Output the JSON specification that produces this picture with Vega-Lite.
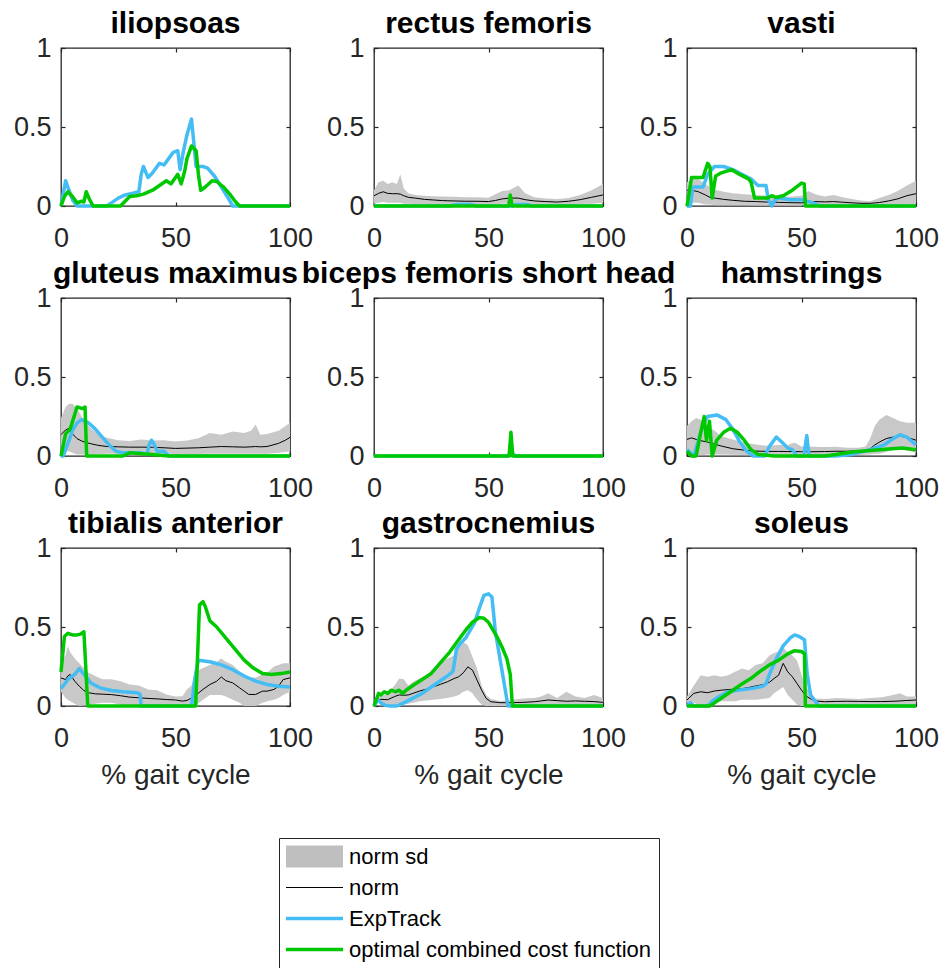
{
"$schema": "https://vega.github.io/schema/vega-lite/v6.json",
"padding": {"left": 12, "top": 8, "right": 0, "bottom": 0},
"background": "white",
"datasets": {
"norm": [
{"m":"rf","x":0,"lo":0.015,"y":0.065,"hi":0.1},{"m":"rf","x":2,"lo":0.02,"y":0.08,"hi":0.15},{"m":"rf","x":4,"lo":0.025,"y":0.09,"hi":0.16},{"m":"rf","x":6,"lo":0.02,"y":0.08,"hi":0.14},{"m":"rf","x":8,"lo":0.02,"y":0.078,"hi":0.15},{"m":"rf","x":10,"lo":0.02,"y":0.078,"hi":0.14},{"m":"rf","x":11.5,"lo":0.02,"y":0.075,"hi":0.2},{"m":"rf","x":13,"lo":0.015,"y":0.065,"hi":0.11},{"m":"rf","x":15,"lo":0.015,"y":0.055,"hi":0.08},{"m":"rf","x":18,"lo":0.012,"y":0.05,"hi":0.07},{"m":"rf","x":22,"lo":0.01,"y":0.042,"hi":0.065},{"m":"rf","x":26,"lo":0.01,"y":0.038,"hi":0.062},{"m":"rf","x":30,"lo":0.01,"y":0.034,"hi":0.06},{"m":"rf","x":35,"lo":0.008,"y":0.032,"hi":0.058},{"m":"rf","x":40,"lo":0.008,"y":0.03,"hi":0.056},{"m":"rf","x":45,"lo":0.008,"y":0.03,"hi":0.055},{"m":"rf","x":50,"lo":0.008,"y":0.028,"hi":0.052},{"m":"rf","x":53,"lo":0.01,"y":0.035,"hi":0.075},{"m":"rf","x":56,"lo":0.015,"y":0.045,"hi":0.095},{"m":"rf","x":59,"lo":0.015,"y":0.05,"hi":0.1},{"m":"rf","x":63,"lo":0.015,"y":0.05,"hi":0.13},{"m":"rf","x":66,"lo":0.01,"y":0.04,"hi":0.08},{"m":"rf","x":70,"lo":0.008,"y":0.032,"hi":0.055},{"m":"rf","x":75,"lo":0.008,"y":0.028,"hi":0.047},{"m":"rf","x":80,"lo":0.008,"y":0.025,"hi":0.045},{"m":"rf","x":85,"lo":0.01,"y":0.03,"hi":0.05},{"m":"rf","x":90,"lo":0.012,"y":0.04,"hi":0.07},{"m":"rf","x":95,"lo":0.015,"y":0.055,"hi":0.1},{"m":"rf","x":100,"lo":0.02,"y":0.07,"hi":0.14},
{"m":"va","x":0,"lo":0.02,"y":0.1,"hi":0.15},{"m":"va","x":2,"lo":0.02,"y":0.1,"hi":0.17},{"m":"va","x":5,"lo":0.02,"y":0.09,"hi":0.17},{"m":"va","x":8,"lo":0.01,"y":0.07,"hi":0.14},{"m":"va","x":10,"lo":0.01,"y":0.055,"hi":0.12},{"m":"va","x":13,"lo":0.005,"y":0.048,"hi":0.1},{"m":"va","x":16,"lo":0.005,"y":0.042,"hi":0.09},{"m":"va","x":20,"lo":0.005,"y":0.036,"hi":0.08},{"m":"va","x":25,"lo":0.005,"y":0.03,"hi":0.075},{"m":"va","x":30,"lo":0.003,"y":0.028,"hi":0.07},{"m":"va","x":35,"lo":0.003,"y":0.025,"hi":0.065},{"m":"va","x":40,"lo":0.003,"y":0.023,"hi":0.06},{"m":"va","x":45,"lo":0.003,"y":0.021,"hi":0.058},{"m":"va","x":50,"lo":0.003,"y":0.02,"hi":0.065},{"m":"va","x":53,"lo":0.003,"y":0.025,"hi":0.095},{"m":"va","x":56,"lo":0.003,"y":0.028,"hi":0.075},{"m":"va","x":60,"lo":0.003,"y":0.026,"hi":0.06},{"m":"va","x":64,"lo":0.003,"y":0.028,"hi":0.07},{"m":"va","x":68,"lo":0.003,"y":0.024,"hi":0.055},{"m":"va","x":72,"lo":0.002,"y":0.02,"hi":0.045},{"m":"va","x":76,"lo":0.002,"y":0.017,"hi":0.035},{"m":"va","x":80,"lo":0.002,"y":0.017,"hi":0.03},{"m":"va","x":84,"lo":0.003,"y":0.022,"hi":0.05},{"m":"va","x":88,"lo":0.005,"y":0.032,"hi":0.07},{"m":"va","x":92,"lo":0.008,"y":0.045,"hi":0.095},{"m":"va","x":96,"lo":0.01,"y":0.065,"hi":0.13},{"m":"va","x":100,"lo":0.015,"y":0.078,"hi":0.16},
{"m":"gm","x":0,"lo":0.03,"y":0.135,"hi":0.24},{"m":"gm","x":2,"lo":0.03,"y":0.165,"hi":0.31},{"m":"gm","x":3.5,"lo":0.03,"y":0.175,"hi":0.33},{"m":"gm","x":5,"lo":0.02,"y":0.14,"hi":0.33},{"m":"gm","x":7,"lo":0.01,"y":0.11,"hi":0.3},{"m":"gm","x":9,"lo":0.01,"y":0.095,"hi":0.25},{"m":"gm","x":11,"lo":0.01,"y":0.085,"hi":0.21},{"m":"gm","x":13,"lo":0.01,"y":0.078,"hi":0.175},{"m":"gm","x":16,"lo":0.012,"y":0.068,"hi":0.14},{"m":"gm","x":20,"lo":0.015,"y":0.06,"hi":0.115},{"m":"gm","x":25,"lo":0.015,"y":0.058,"hi":0.1},{"m":"gm","x":30,"lo":0.015,"y":0.056,"hi":0.095},{"m":"gm","x":35,"lo":0.015,"y":0.056,"hi":0.105},{"m":"gm","x":40,"lo":0.015,"y":0.055,"hi":0.098},{"m":"gm","x":45,"lo":0.015,"y":0.052,"hi":0.1},{"m":"gm","x":50,"lo":0.012,"y":0.048,"hi":0.092},{"m":"gm","x":55,"lo":0.012,"y":0.05,"hi":0.098},{"m":"gm","x":60,"lo":0.012,"y":0.052,"hi":0.113},{"m":"gm","x":65,"lo":0.015,"y":0.056,"hi":0.145},{"m":"gm","x":70,"lo":0.015,"y":0.06,"hi":0.135},{"m":"gm","x":75,"lo":0.015,"y":0.058,"hi":0.155},{"m":"gm","x":80,"lo":0.015,"y":0.056,"hi":0.145},{"m":"gm","x":83,"lo":0.015,"y":0.058,"hi":0.16},{"m":"gm","x":85,"lo":0.015,"y":0.06,"hi":0.2},{"m":"gm","x":87,"lo":0.015,"y":0.058,"hi":0.135},{"m":"gm","x":90,"lo":0.015,"y":0.06,"hi":0.14},{"m":"gm","x":95,"lo":0.02,"y":0.08,"hi":0.16},{"m":"gm","x":98,"lo":0.025,"y":0.1,"hi":0.19},{"m":"gm","x":100,"lo":0.03,"y":0.118,"hi":0.21},
{"m":"ha","x":0,"lo":0.03,"y":0.105,"hi":0.19},{"m":"ha","x":2,"lo":0.02,"y":0.115,"hi":0.22},{"m":"ha","x":4,"lo":0.01,"y":0.105,"hi":0.24},{"m":"ha","x":6,"lo":0.005,"y":0.097,"hi":0.23},{"m":"ha","x":9,"lo":0.01,"y":0.088,"hi":0.19},{"m":"ha","x":12,"lo":0.01,"y":0.075,"hi":0.16},{"m":"ha","x":15,"lo":0.01,"y":0.063,"hi":0.125},{"m":"ha","x":20,"lo":0.008,"y":0.046,"hi":0.105},{"m":"ha","x":25,"lo":0.006,"y":0.037,"hi":0.085},{"m":"ha","x":30,"lo":0.005,"y":0.031,"hi":0.073},{"m":"ha","x":35,"lo":0.005,"y":0.029,"hi":0.065},{"m":"ha","x":40,"lo":0.005,"y":0.029,"hi":0.07},{"m":"ha","x":44,"lo":0.005,"y":0.028,"hi":0.07},{"m":"ha","x":47,"lo":0.005,"y":0.028,"hi":0.085},{"m":"ha","x":50,"lo":0.005,"y":0.027,"hi":0.06},{"m":"ha","x":55,"lo":0.005,"y":0.027,"hi":0.058},{"m":"ha","x":60,"lo":0.005,"y":0.028,"hi":0.057},{"m":"ha","x":65,"lo":0.005,"y":0.03,"hi":0.058},{"m":"ha","x":70,"lo":0.005,"y":0.03,"hi":0.052},{"m":"ha","x":75,"lo":0.006,"y":0.032,"hi":0.052},{"m":"ha","x":78,"lo":0.008,"y":0.036,"hi":0.06},{"m":"ha","x":80,"lo":0.01,"y":0.046,"hi":0.11},{"m":"ha","x":82,"lo":0.012,"y":0.07,"hi":0.19},{"m":"ha","x":84,"lo":0.015,"y":0.088,"hi":0.23},{"m":"ha","x":87,"lo":0.025,"y":0.11,"hi":0.26},{"m":"ha","x":90,"lo":0.045,"y":0.12,"hi":0.24},{"m":"ha","x":93,"lo":0.045,"y":0.125,"hi":0.22},{"m":"ha","x":96,"lo":0.035,"y":0.118,"hi":0.21},{"m":"ha","x":100,"lo":0.02,"y":0.1,"hi":0.21},
{"m":"ta","x":0,"lo":0.09,"y":0.178,"hi":0.28},{"m":"ta","x":2,"lo":0.05,"y":0.167,"hi":0.32},{"m":"ta","x":3,"lo":0.04,"y":0.19,"hi":0.38},{"m":"ta","x":4,"lo":0.03,"y":0.2,"hi":0.34},{"m":"ta","x":6,"lo":0.015,"y":0.157,"hi":0.3},{"m":"ta","x":8,"lo":0,"y":0.125,"hi":0.27},{"m":"ta","x":10,"lo":0.005,"y":0.098,"hi":0.24},{"m":"ta","x":12,"lo":0.01,"y":0.084,"hi":0.21},{"m":"ta","x":15,"lo":0.015,"y":0.077,"hi":0.19},{"m":"ta","x":18,"lo":0.02,"y":0.075,"hi":0.17},{"m":"ta","x":22,"lo":0.02,"y":0.072,"hi":0.17},{"m":"ta","x":26,"lo":0.01,"y":0.065,"hi":0.157},{"m":"ta","x":30,"lo":0,"y":0.056,"hi":0.136},{"m":"ta","x":34,"lo":0,"y":0.052,"hi":0.13},{"m":"ta","x":38,"lo":0,"y":0.048,"hi":0.105},{"m":"ta","x":42,"lo":0,"y":0.045,"hi":0.1},{"m":"ta","x":46,"lo":0,"y":0.041,"hi":0.073},{"m":"ta","x":50,"lo":0,"y":0.038,"hi":0.06},{"m":"ta","x":53,"lo":0,"y":0.031,"hi":0.062},{"m":"ta","x":55,"lo":0,"y":0.035,"hi":0.105},{"m":"ta","x":57,"lo":0,"y":0.05,"hi":0.13},{"m":"ta","x":59,"lo":0.005,"y":0.07,"hi":0.22},{"m":"ta","x":62,"lo":0.04,"y":0.105,"hi":0.24},{"m":"ta","x":65,"lo":0.07,"y":0.136,"hi":0.26},{"m":"ta","x":68,"lo":0.07,"y":0.157,"hi":0.28},{"m":"ta","x":70,"lo":0.07,"y":0.184,"hi":0.3},{"m":"ta","x":72,"lo":0.06,"y":0.16,"hi":0.28},{"m":"ta","x":75,"lo":0.04,"y":0.146,"hi":0.26},{"m":"ta","x":78,"lo":0.02,"y":0.115,"hi":0.22},{"m":"ta","x":80,"lo":0,"y":0.094,"hi":0.2},{"m":"ta","x":82,"lo":0,"y":0.073,"hi":0.18},{"m":"ta","x":85,"lo":0,"y":0.073,"hi":0.18},{"m":"ta","x":88,"lo":0.02,"y":0.094,"hi":0.2},{"m":"ta","x":90,"lo":0.03,"y":0.094,"hi":0.21},{"m":"ta","x":93,"lo":0.04,"y":0.105,"hi":0.25},{"m":"ta","x":95,"lo":0.05,"y":0.125,"hi":0.26},{"m":"ta","x":97,"lo":0.07,"y":0.167,"hi":0.27},{"m":"ta","x":100,"lo":0.09,"y":0.178,"hi":0.27},
{"m":"ga","x":0,"lo":0.02,"y":0.034,"hi":0.04},{"m":"ga","x":3,"lo":0.03,"y":0.042,"hi":0.06},{"m":"ga","x":6,"lo":0.01,"y":0.04,"hi":0.08},{"m":"ga","x":9,"lo":0,"y":0.06,"hi":0.13},{"m":"ga","x":11,"lo":0,"y":0.07,"hi":0.174},{"m":"ga","x":13,"lo":0.01,"y":0.068,"hi":0.17},{"m":"ga","x":15,"lo":0.015,"y":0.07,"hi":0.13},{"m":"ga","x":17,"lo":0.02,"y":0.08,"hi":0.153},{"m":"ga","x":20,"lo":0.03,"y":0.095,"hi":0.174},{"m":"ga","x":23,"lo":0.035,"y":0.107,"hi":0.195},{"m":"ga","x":26,"lo":0.04,"y":0.122,"hi":0.227},{"m":"ga","x":29,"lo":0.045,"y":0.137,"hi":0.27},{"m":"ga","x":32,"lo":0.05,"y":0.153,"hi":0.3},{"m":"ga","x":35,"lo":0.06,"y":0.174,"hi":0.32},{"m":"ga","x":37,"lo":0.07,"y":0.185,"hi":0.36},{"m":"ga","x":39,"lo":0.09,"y":0.21,"hi":0.405},{"m":"ga","x":41,"lo":0.1,"y":0.248,"hi":0.385},{"m":"ga","x":43,"lo":0.08,"y":0.227,"hi":0.31},{"m":"ga","x":45,"lo":0.04,"y":0.164,"hi":0.237},{"m":"ga","x":47,"lo":0.01,"y":0.1,"hi":0.13},{"m":"ga","x":49,"lo":0,"y":0.048,"hi":0.07},{"m":"ga","x":51,"lo":0,"y":0.027,"hi":0.045},{"m":"ga","x":55,"lo":0,"y":0.021,"hi":0.032},{"m":"ga","x":60,"lo":0,"y":0.021,"hi":0.038},{"m":"ga","x":65,"lo":0,"y":0.023,"hi":0.048},{"m":"ga","x":70,"lo":0,"y":0.027,"hi":0.05},{"m":"ga","x":73,"lo":0.002,"y":0.032,"hi":0.06},{"m":"ga","x":76,"lo":0.005,"y":0.038,"hi":0.08},{"m":"ga","x":80,"lo":0.002,"y":0.034,"hi":0.05},{"m":"ga","x":84,"lo":0.002,"y":0.03,"hi":0.09},{"m":"ga","x":88,"lo":0.002,"y":0.032,"hi":0.06},{"m":"ga","x":92,"lo":0.002,"y":0.03,"hi":0.05},{"m":"ga","x":96,"lo":0.002,"y":0.028,"hi":0.07},{"m":"ga","x":100,"lo":0.002,"y":0.023,"hi":0.05},
{"m":"so","x":0,"lo":0.02,"y":0.038,"hi":0.06},{"m":"so","x":3,"lo":0.02,"y":0.08,"hi":0.13},{"m":"so","x":6,"lo":0,"y":0.09,"hi":0.195},{"m":"so","x":9,"lo":0.01,"y":0.084,"hi":0.185},{"m":"so","x":12,"lo":0.02,"y":0.095,"hi":0.195},{"m":"so","x":15,"lo":0.03,"y":0.1,"hi":0.185},{"m":"so","x":18,"lo":0.03,"y":0.104,"hi":0.195},{"m":"so","x":21,"lo":0.03,"y":0.107,"hi":0.216},{"m":"so","x":24,"lo":0.04,"y":0.11,"hi":0.237},{"m":"so","x":27,"lo":0.04,"y":0.117,"hi":0.227},{"m":"so","x":30,"lo":0.04,"y":0.127,"hi":0.26},{"m":"so","x":33,"lo":0.045,"y":0.135,"hi":0.27},{"m":"so","x":36,"lo":0.05,"y":0.15,"hi":0.32},{"m":"so","x":38,"lo":0.08,"y":0.174,"hi":0.335},{"m":"so","x":40,"lo":0.1,"y":0.195,"hi":0.345},{"m":"so","x":42,"lo":0.12,"y":0.27,"hi":0.37},{"m":"so","x":44,"lo":0.07,"y":0.216,"hi":0.34},{"m":"so","x":46,"lo":0.04,"y":0.185,"hi":0.32},{"m":"so","x":48,"lo":0.01,"y":0.143,"hi":0.29},{"m":"so","x":50,"lo":0,"y":0.1,"hi":0.2},{"m":"so","x":52,"lo":0,"y":0.063,"hi":0.12},{"m":"so","x":54,"lo":0,"y":0.045,"hi":0.08},{"m":"so","x":56,"lo":0,"y":0.032,"hi":0.048},{"m":"so","x":60,"lo":0.005,"y":0.027,"hi":0.045},{"m":"so","x":65,"lo":0.005,"y":0.029,"hi":0.05},{"m":"so","x":70,"lo":0.005,"y":0.03,"hi":0.048},{"m":"so","x":75,"lo":0.005,"y":0.029,"hi":0.045},{"m":"so","x":80,"lo":0.005,"y":0.028,"hi":0.05},{"m":"so","x":85,"lo":0.005,"y":0.028,"hi":0.055},{"m":"so","x":90,"lo":0.005,"y":0.03,"hi":0.07},{"m":"so","x":93,"lo":0.005,"y":0.032,"hi":0.08},{"m":"so","x":96,"lo":0.005,"y":0.035,"hi":0.06},{"m":"so","x":100,"lo":0.005,"y":0.038,"hi":0.06}
],
"exp": [
{"m":"il","x":0,"y":0},{"m":"il","x":1,"y":0.08},{"m":"il","x":2,"y":0.16},{"m":"il","x":3,"y":0.12},{"m":"il","x":5,"y":0.04},{"m":"il","x":7,"y":0},{"m":"il","x":20,"y":0},{"m":"il","x":22,"y":0.02},{"m":"il","x":25,"y":0.05},{"m":"il","x":28,"y":0.07},{"m":"il","x":31,"y":0.08},{"m":"il","x":34,"y":0.09},{"m":"il","x":35,"y":0.2},{"m":"il","x":36,"y":0.25},{"m":"il","x":38,"y":0.18},{"m":"il","x":40,"y":0.21},{"m":"il","x":43,"y":0.27},{"m":"il","x":45,"y":0.26},{"m":"il","x":47,"y":0.3},{"m":"il","x":49,"y":0.34},{"m":"il","x":51,"y":0.35},{"m":"il","x":52,"y":0.23},{"m":"il","x":53.5,"y":0.35},{"m":"il","x":55,"y":0.45},{"m":"il","x":57,"y":0.55},{"m":"il","x":58,"y":0.4},{"m":"il","x":59,"y":0.25},{"m":"il","x":62,"y":0.25},{"m":"il","x":64,"y":0.24},{"m":"il","x":67,"y":0.19},{"m":"il","x":70,"y":0.12},{"m":"il","x":73,"y":0.05},{"m":"il","x":75,"y":0},{"m":"il","x":100,"y":0},
{"m":"rf","x":0,"y":0},{"m":"rf","x":33,"y":0},{"m":"rf","x":36,"y":0.01},{"m":"rf","x":42,"y":0.01},{"m":"rf","x":45,"y":0},{"m":"rf","x":60,"y":0},{"m":"rf","x":62,"y":0.01},{"m":"rf","x":67,"y":0.01},{"m":"rf","x":69,"y":0},{"m":"rf","x":100,"y":0},
{"m":"va","x":0,"y":0},{"m":"va","x":1.5,"y":0},{"m":"va","x":2.5,"y":0.12},{"m":"va","x":7,"y":0.12},{"m":"va","x":9,"y":0.2},{"m":"va","x":12,"y":0.25},{"m":"va","x":16,"y":0.25},{"m":"va","x":20,"y":0.23},{"m":"va","x":24,"y":0.2},{"m":"va","x":28,"y":0.17},{"m":"va","x":31,"y":0.13},{"m":"va","x":34.5,"y":0.13},{"m":"va","x":35.5,"y":0.04},{"m":"va","x":37,"y":0},{"m":"va","x":38.5,"y":0.04},{"m":"va","x":40,"y":0.05},{"m":"va","x":45,"y":0.04},{"m":"va","x":50,"y":0.04},{"m":"va","x":55,"y":0.02},{"m":"va","x":58,"y":0},{"m":"va","x":100,"y":0},
{"m":"gm","x":0,"y":0},{"m":"gm","x":1,"y":0},{"m":"gm","x":3,"y":0.08},{"m":"gm","x":5,"y":0.16},{"m":"gm","x":7,"y":0.21},{"m":"gm","x":9,"y":0.23},{"m":"gm","x":12,"y":0.21},{"m":"gm","x":15,"y":0.17},{"m":"gm","x":18,"y":0.12},{"m":"gm","x":21,"y":0.07},{"m":"gm","x":24,"y":0.03},{"m":"gm","x":27,"y":0.02},{"m":"gm","x":31,"y":0.02},{"m":"gm","x":35,"y":0.02},{"m":"gm","x":37.5,"y":0.01},{"m":"gm","x":38.5,"y":0.07},{"m":"gm","x":39.5,"y":0.1},{"m":"gm","x":40.5,"y":0.08},{"m":"gm","x":42,"y":0.03},{"m":"gm","x":45,"y":0.03},{"m":"gm","x":47,"y":0},{"m":"gm","x":100,"y":0},
{"m":"bf","x":0,"y":0},{"m":"bf","x":58,"y":0},{"m":"bf","x":59,"y":0.01},{"m":"bf","x":61,"y":0.01},{"m":"bf","x":62,"y":0},{"m":"bf","x":100,"y":0},
{"m":"ha","x":0,"y":0.04},{"m":"ha","x":1.5,"y":0.02},{"m":"ha","x":3,"y":0},{"m":"ha","x":5,"y":0.1},{"m":"ha","x":7,"y":0.2},{"m":"ha","x":9,"y":0.25},{"m":"ha","x":13,"y":0.26},{"m":"ha","x":17,"y":0.23},{"m":"ha","x":20,"y":0.17},{"m":"ha","x":23,"y":0.09},{"m":"ha","x":26,"y":0.03},{"m":"ha","x":29,"y":0},{"m":"ha","x":34,"y":0},{"m":"ha","x":36,"y":0.06},{"m":"ha","x":39,"y":0.12},{"m":"ha","x":42,"y":0.08},{"m":"ha","x":44,"y":0.05},{"m":"ha","x":46,"y":0.04},{"m":"ha","x":48,"y":0},{"m":"ha","x":51,"y":0},{"m":"ha","x":52.3,"y":0.13},{"m":"ha","x":53.3,"y":0},{"m":"ha","x":65,"y":0},{"m":"ha","x":72,"y":0.01},{"m":"ha","x":80,"y":0.04},{"m":"ha","x":86,"y":0.07},{"m":"ha","x":90,"y":0.11},{"m":"ha","x":93,"y":0.135},{"m":"ha","x":96,"y":0.12},{"m":"ha","x":100,"y":0.07},
{"m":"ta","x":0,"y":0.11},{"m":"ta","x":3,"y":0.167},{"m":"ta","x":6,"y":0.2},{"m":"ta","x":8,"y":0.236},{"m":"ta","x":10,"y":0.2},{"m":"ta","x":13,"y":0.146},{"m":"ta","x":17,"y":0.115},{"m":"ta","x":22,"y":0.098},{"m":"ta","x":27,"y":0.09},{"m":"ta","x":33,"y":0.084},{"m":"ta","x":34.5,"y":0.075},{"m":"ta","x":35,"y":0},{"m":"ta","x":57,"y":0},{"m":"ta","x":58.5,"y":0.18},{"m":"ta","x":60,"y":0.29},{"m":"ta","x":65,"y":0.28},{"m":"ta","x":70,"y":0.26},{"m":"ta","x":75,"y":0.23},{"m":"ta","x":80,"y":0.19},{"m":"ta","x":85,"y":0.157},{"m":"ta","x":90,"y":0.136},{"m":"ta","x":95,"y":0.125},{"m":"ta","x":100,"y":0.12},
{"m":"ga","x":0,"y":0},{"m":"ga","x":1.7,"y":0.04},{"m":"ga","x":3,"y":0.02},{"m":"ga","x":5,"y":0.005},{"m":"ga","x":7,"y":0},{"m":"ga","x":10,"y":0},{"m":"ga","x":13,"y":0.02},{"m":"ga","x":17,"y":0.05},{"m":"ga","x":21,"y":0.08},{"m":"ga","x":25,"y":0.12},{"m":"ga","x":29,"y":0.16},{"m":"ga","x":33,"y":0.2},{"m":"ga","x":34.5,"y":0.22},{"m":"ga","x":36,"y":0.36},{"m":"ga","x":38,"y":0.4},{"m":"ga","x":40,"y":0.43},{"m":"ga","x":44,"y":0.53},{"m":"ga","x":46,"y":0.62},{"m":"ga","x":48,"y":0.7},{"m":"ga","x":50,"y":0.71},{"m":"ga","x":51.5,"y":0.69},{"m":"ga","x":53,"y":0.47},{"m":"ga","x":55,"y":0.3},{"m":"ga","x":57,"y":0.13},{"m":"ga","x":58.5,"y":0},{"m":"ga","x":100,"y":0},
{"m":"so","x":0,"y":0},{"m":"so","x":1.5,"y":0.02},{"m":"so","x":3,"y":0},{"m":"so","x":9,"y":0},{"m":"so","x":11,"y":0.03},{"m":"so","x":14,"y":0.06},{"m":"so","x":18,"y":0.09},{"m":"so","x":22,"y":0.1},{"m":"so","x":28,"y":0.11},{"m":"so","x":33,"y":0.125},{"m":"so","x":34.5,"y":0.14},{"m":"so","x":36,"y":0.2},{"m":"so","x":39,"y":0.3},{"m":"so","x":42,"y":0.38},{"m":"so","x":45,"y":0.43},{"m":"so","x":47,"y":0.45},{"m":"so","x":49,"y":0.44},{"m":"so","x":51.3,"y":0.42},{"m":"so","x":52.5,"y":0.2},{"m":"so","x":54,"y":0.07},{"m":"so","x":56,"y":0.03},{"m":"so","x":57.5,"y":0},{"m":"so","x":100,"y":0}
],
"opt": [
{"m":"il","x":0,"y":0},{"m":"il","x":1.5,"y":0.06},{"m":"il","x":3,"y":0.09},{"m":"il","x":5,"y":0.06},{"m":"il","x":7,"y":0.02},{"m":"il","x":9,"y":0.03},{"m":"il","x":10,"y":0.025},{"m":"il","x":11,"y":0.09},{"m":"il","x":12.5,"y":0.04},{"m":"il","x":14,"y":0},{"m":"il","x":26,"y":0},{"m":"il","x":28,"y":0.03},{"m":"il","x":30,"y":0.06},{"m":"il","x":33,"y":0.065},{"m":"il","x":36,"y":0.075},{"m":"il","x":40,"y":0.1},{"m":"il","x":43,"y":0.13},{"m":"il","x":46,"y":0.16},{"m":"il","x":48,"y":0.14},{"m":"il","x":50,"y":0.18},{"m":"il","x":51,"y":0.2},{"m":"il","x":52.5,"y":0.14},{"m":"il","x":54,"y":0.22},{"m":"il","x":55,"y":0.3},{"m":"il","x":57,"y":0.38},{"m":"il","x":59,"y":0.35},{"m":"il","x":60,"y":0.2},{"m":"il","x":61,"y":0.1},{"m":"il","x":63,"y":0.12},{"m":"il","x":66,"y":0.16},{"m":"il","x":68,"y":0.155},{"m":"il","x":71,"y":0.12},{"m":"il","x":74,"y":0.07},{"m":"il","x":76,"y":0.03},{"m":"il","x":78,"y":0},{"m":"il","x":100,"y":0},
{"m":"rf","x":0,"y":0},{"m":"rf","x":58.8,"y":0},{"m":"rf","x":59.5,"y":0.07},{"m":"rf","x":60.3,"y":0},{"m":"rf","x":100,"y":0},
{"m":"va","x":0,"y":0},{"m":"va","x":2,"y":0.18},{"m":"va","x":7,"y":0.18},{"m":"va","x":9,"y":0.27},{"m":"va","x":10,"y":0.25},{"m":"va","x":11,"y":0.05},{"m":"va","x":12.5,"y":0.19},{"m":"va","x":15,"y":0.21},{"m":"va","x":19.5,"y":0.23},{"m":"va","x":23,"y":0.2},{"m":"va","x":27,"y":0.17},{"m":"va","x":28,"y":0.15},{"m":"va","x":29.5,"y":0.05},{"m":"va","x":35,"y":0.05},{"m":"va","x":37,"y":0.065},{"m":"va","x":39,"y":0.055},{"m":"va","x":42,"y":0.065},{"m":"va","x":46,"y":0.1},{"m":"va","x":50,"y":0.145},{"m":"va","x":51.2,"y":0.14},{"m":"va","x":51.7,"y":0},{"m":"va","x":100,"y":0},
{"m":"gm","x":0,"y":0},{"m":"gm","x":2,"y":0.14},{"m":"gm","x":4,"y":0.17},{"m":"gm","x":5.5,"y":0.24},{"m":"gm","x":7,"y":0.31},{"m":"gm","x":9.5,"y":0.3},{"m":"gm","x":10.5,"y":0.31},{"m":"gm","x":11.2,"y":0},{"m":"gm","x":27,"y":0},{"m":"gm","x":30,"y":0.02},{"m":"gm","x":35,"y":0.015},{"m":"gm","x":40,"y":0.01},{"m":"gm","x":47,"y":0},{"m":"gm","x":100,"y":0},
{"m":"bf","x":0,"y":0},{"m":"bf","x":59,"y":0},{"m":"bf","x":59.8,"y":0.15},{"m":"bf","x":60.6,"y":0},{"m":"bf","x":100,"y":0},
{"m":"ha","x":0,"y":0.03},{"m":"ha","x":2,"y":0},{"m":"ha","x":4,"y":0},{"m":"ha","x":6,"y":0.15},{"m":"ha","x":7.5,"y":0.25},{"m":"ha","x":8.5,"y":0.1},{"m":"ha","x":9.8,"y":0.22},{"m":"ha","x":11,"y":0},{"m":"ha","x":13,"y":0.1},{"m":"ha","x":16,"y":0.15},{"m":"ha","x":19,"y":0.175},{"m":"ha","x":22,"y":0.15},{"m":"ha","x":25,"y":0.1},{"m":"ha","x":28,"y":0.04},{"m":"ha","x":31,"y":0.01},{"m":"ha","x":38,"y":0},{"m":"ha","x":60,"y":0},{"m":"ha","x":65,"y":0.01},{"m":"ha","x":72,"y":0.025},{"m":"ha","x":80,"y":0.035},{"m":"ha","x":88,"y":0.045},{"m":"ha","x":94,"y":0.05},{"m":"ha","x":100,"y":0.04},
{"m":"ta","x":0,"y":0.215},{"m":"ta","x":1.5,"y":0.44},{"m":"ta","x":3,"y":0.46},{"m":"ta","x":5,"y":0.45},{"m":"ta","x":7,"y":0.45},{"m":"ta","x":8.5,"y":0.455},{"m":"ta","x":10,"y":0.47},{"m":"ta","x":11.7,"y":0},{"m":"ta","x":58.8,"y":0},{"m":"ta","x":60.5,"y":0.64},{"m":"ta","x":62,"y":0.66},{"m":"ta","x":63,"y":0.63},{"m":"ta","x":65,"y":0.54},{"m":"ta","x":68,"y":0.5},{"m":"ta","x":72,"y":0.43},{"m":"ta","x":76,"y":0.36},{"m":"ta","x":80,"y":0.29},{"m":"ta","x":84,"y":0.24},{"m":"ta","x":88,"y":0.205},{"m":"ta","x":92,"y":0.2},{"m":"ta","x":96,"y":0.205},{"m":"ta","x":100,"y":0.215},
{"m":"ga","x":0,"y":0},{"m":"ga","x":1,"y":0.04},{"m":"ga","x":2,"y":0.08},{"m":"ga","x":3,"y":0.07},{"m":"ga","x":4.5,"y":0.09},{"m":"ga","x":6,"y":0.08},{"m":"ga","x":7.5,"y":0.1},{"m":"ga","x":9.5,"y":0.09},{"m":"ga","x":11,"y":0.1},{"m":"ga","x":12.5,"y":0.08},{"m":"ga","x":14,"y":0.1},{"m":"ga","x":17,"y":0.13},{"m":"ga","x":20,"y":0.158},{"m":"ga","x":25,"y":0.206},{"m":"ga","x":30,"y":0.29},{"m":"ga","x":33,"y":0.34},{"m":"ga","x":36,"y":0.4},{"m":"ga","x":40,"y":0.48},{"m":"ga","x":43,"y":0.53},{"m":"ga","x":46,"y":0.56},{"m":"ga","x":48,"y":0.555},{"m":"ga","x":50,"y":0.53},{"m":"ga","x":52,"y":0.48},{"m":"ga","x":54,"y":0.43},{"m":"ga","x":56,"y":0.37},{"m":"ga","x":58,"y":0.3},{"m":"ga","x":59.5,"y":0.2},{"m":"ga","x":60.2,"y":0.05},{"m":"ga","x":60.5,"y":0},{"m":"ga","x":100,"y":0},
{"m":"so","x":0,"y":0},{"m":"so","x":10,"y":0},{"m":"so","x":12,"y":0.02},{"m":"so","x":16,"y":0.06},{"m":"so","x":20,"y":0.1},{"m":"so","x":24,"y":0.14},{"m":"so","x":28,"y":0.175},{"m":"so","x":32,"y":0.22},{"m":"so","x":36,"y":0.26},{"m":"so","x":40,"y":0.29},{"m":"so","x":44,"y":0.33},{"m":"so","x":47,"y":0.35},{"m":"so","x":50,"y":0.345},{"m":"so","x":51.3,"y":0.33},{"m":"so","x":51.7,"y":0},{"m":"so","x":100,"y":0}
]
},
"bounds": "flush",
"columns": 3,
"spacing": {"row": 92, "column": 84},
"concat": [
{"title": "iliopsoas", "width": 229, "height": 158, "resolve": {"axis": {"x": "independent", "y": "independent"}},
 "layer": [
  {"data": {"name": "exp"}, "transform": [{"filter": "datum.m=='il'"}], "mark": {"type": "line"}, "encoding": {
     "x": {"field": "x", "type": "quantitative", "scale": {"domain": [0, 100], "nice": false}, "axis": {"values": [0, 50, 100], "title": null}},
     "y": {"field": "y", "type": "quantitative", "scale": {"domain": [0, 1], "nice": false}, "axis": {"values": [0, 0.5, 1], "title": null, "format": "~g"}},
     "color": {"datum": "ExpTrack", "type": "nominal", "scale": {"domain": ["norm sd", "norm", "ExpTrack", "optimal combined cost function"], "range": ["#bfbfbf", "#000000", "#44bdf5", "#00c800"]}, "legend": {"title": null, "symbolType": "stroke", "symbolOffset": -11, "labelOffset": -5}},
     "strokeWidth": {"datum": "ExpTrack", "type": "nominal", "scale": {"type": "ordinal", "domain": ["norm sd", "norm", "ExpTrack", "optimal combined cost function"], "range": [22, 1.2, 3.5, 3.5]}, "legend": {"title": null, "symbolType": "stroke", "symbolOffset": -11, "labelOffset": -5}}}},
  {"data": {"name": "opt"}, "transform": [{"filter": "datum.m=='il'"}], "mark": {"type": "line", "strokeWidth": 3.5, "color": "#00c800"}, "encoding": {
     "x": {"field": "x", "type": "quantitative", "axis": {"orient": "top", "values": [0, 50, 100], "labels": false, "title": null}},
     "y": {"field": "y", "type": "quantitative", "axis": {"orient": "right", "values": [0, 0.5, 1], "labels": false, "title": null}}}}
 ]},
{"title": "rectus femoris", "width": 229, "height": 158, "resolve": {"axis": {"x": "independent", "y": "independent"}},
 "layer": [
  {"data": {"name": "norm"}, "transform": [{"filter": "datum.m=='rf'"}], "mark": {"type": "area", "color": "#c8c8c8"}, "encoding": {
     "x": {"field": "x", "type": "quantitative", "scale": {"domain": [0, 100], "nice": false}, "axis": {"values": [0, 50, 100], "title": null}},
     "y": {"field": "lo", "type": "quantitative", "scale": {"domain": [0, 1], "nice": false}, "axis": {"values": [0, 0.5, 1], "title": null, "format": "~g"}}, "y2": {"field": "hi"}}},
  {"data": {"name": "norm"}, "transform": [{"filter": "datum.m=='rf'"}], "mark": {"type": "line", "strokeWidth": 1, "color": "#000000"}, "encoding": {
     "x": {"field": "x", "type": "quantitative", "axis": {"orient": "top", "values": [0, 50, 100], "labels": false, "title": null}},
     "y": {"field": "y", "type": "quantitative", "axis": {"orient": "right", "values": [0, 0.5, 1], "labels": false, "title": null}}}},
  {"data": {"name": "exp"}, "transform": [{"filter": "datum.m=='rf'"}], "mark": {"type": "line", "strokeWidth": 3.5, "color": "#44bdf5"}, "encoding": {"x": {"field": "x", "type": "quantitative", "axis": null}, "y": {"field": "y", "type": "quantitative", "axis": null}}},
  {"data": {"name": "opt"}, "transform": [{"filter": "datum.m=='rf'"}], "mark": {"type": "line", "strokeWidth": 3.5, "color": "#00c800"}, "encoding": {"x": {"field": "x", "type": "quantitative", "axis": null}, "y": {"field": "y", "type": "quantitative", "axis": null}}}
 ]},
{"title": "vasti", "width": 229, "height": 158, "resolve": {"axis": {"x": "independent", "y": "independent"}},
 "layer": [
  {"data": {"name": "norm"}, "transform": [{"filter": "datum.m=='va'"}], "mark": {"type": "area", "color": "#c8c8c8"}, "encoding": {
     "x": {"field": "x", "type": "quantitative", "scale": {"domain": [0, 100], "nice": false}, "axis": {"values": [0, 50, 100], "title": null}},
     "y": {"field": "lo", "type": "quantitative", "scale": {"domain": [0, 1], "nice": false}, "axis": {"values": [0, 0.5, 1], "title": null, "format": "~g"}}, "y2": {"field": "hi"}}},
  {"data": {"name": "norm"}, "transform": [{"filter": "datum.m=='va'"}], "mark": {"type": "line", "strokeWidth": 1, "color": "#000000"}, "encoding": {
     "x": {"field": "x", "type": "quantitative", "axis": {"orient": "top", "values": [0, 50, 100], "labels": false, "title": null}},
     "y": {"field": "y", "type": "quantitative", "axis": {"orient": "right", "values": [0, 0.5, 1], "labels": false, "title": null}}}},
  {"data": {"name": "exp"}, "transform": [{"filter": "datum.m=='va'"}], "mark": {"type": "line", "strokeWidth": 3.5, "color": "#44bdf5"}, "encoding": {"x": {"field": "x", "type": "quantitative", "axis": null}, "y": {"field": "y", "type": "quantitative", "axis": null}}},
  {"data": {"name": "opt"}, "transform": [{"filter": "datum.m=='va'"}], "mark": {"type": "line", "strokeWidth": 3.5, "color": "#00c800"}, "encoding": {"x": {"field": "x", "type": "quantitative", "axis": null}, "y": {"field": "y", "type": "quantitative", "axis": null}}}
 ]},
{"title": "gluteus maximus", "width": 229, "height": 158, "resolve": {"axis": {"x": "independent", "y": "independent"}},
 "layer": [
  {"data": {"name": "norm"}, "transform": [{"filter": "datum.m=='gm'"}], "mark": {"type": "area", "color": "#c8c8c8"}, "encoding": {
     "x": {"field": "x", "type": "quantitative", "scale": {"domain": [0, 100], "nice": false}, "axis": {"values": [0, 50, 100], "title": null}},
     "y": {"field": "lo", "type": "quantitative", "scale": {"domain": [0, 1], "nice": false}, "axis": {"values": [0, 0.5, 1], "title": null, "format": "~g"}}, "y2": {"field": "hi"}}},
  {"data": {"name": "norm"}, "transform": [{"filter": "datum.m=='gm'"}], "mark": {"type": "line", "strokeWidth": 1, "color": "#000000"}, "encoding": {
     "x": {"field": "x", "type": "quantitative", "axis": {"orient": "top", "values": [0, 50, 100], "labels": false, "title": null}},
     "y": {"field": "y", "type": "quantitative", "axis": {"orient": "right", "values": [0, 0.5, 1], "labels": false, "title": null}}}},
  {"data": {"name": "exp"}, "transform": [{"filter": "datum.m=='gm'"}], "mark": {"type": "line", "strokeWidth": 3.5, "color": "#44bdf5"}, "encoding": {"x": {"field": "x", "type": "quantitative", "axis": null}, "y": {"field": "y", "type": "quantitative", "axis": null}}},
  {"data": {"name": "opt"}, "transform": [{"filter": "datum.m=='gm'"}], "mark": {"type": "line", "strokeWidth": 3.5, "color": "#00c800"}, "encoding": {"x": {"field": "x", "type": "quantitative", "axis": null}, "y": {"field": "y", "type": "quantitative", "axis": null}}}
 ]},
{"title": "biceps femoris short head", "width": 229, "height": 158, "resolve": {"axis": {"x": "independent", "y": "independent"}},
 "layer": [
  {"data": {"name": "exp"}, "transform": [{"filter": "datum.m=='bf'"}], "mark": {"type": "line", "strokeWidth": 3.5, "color": "#44bdf5"}, "encoding": {
     "x": {"field": "x", "type": "quantitative", "scale": {"domain": [0, 100], "nice": false}, "axis": {"values": [0, 50, 100], "title": null}},
     "y": {"field": "y", "type": "quantitative", "scale": {"domain": [0, 1], "nice": false}, "axis": {"values": [0, 0.5, 1], "title": null, "format": "~g"}}}},
  {"data": {"name": "opt"}, "transform": [{"filter": "datum.m=='bf'"}], "mark": {"type": "line", "strokeWidth": 3.5, "color": "#00c800"}, "encoding": {
     "x": {"field": "x", "type": "quantitative", "axis": {"orient": "top", "values": [0, 50, 100], "labels": false, "title": null}},
     "y": {"field": "y", "type": "quantitative", "axis": {"orient": "right", "values": [0, 0.5, 1], "labels": false, "title": null}}}}
 ]},
{"title": "hamstrings", "width": 229, "height": 158, "resolve": {"axis": {"x": "independent", "y": "independent"}},
 "layer": [
  {"data": {"name": "norm"}, "transform": [{"filter": "datum.m=='ha'"}], "mark": {"type": "area", "color": "#c8c8c8"}, "encoding": {
     "x": {"field": "x", "type": "quantitative", "scale": {"domain": [0, 100], "nice": false}, "axis": {"values": [0, 50, 100], "title": null}},
     "y": {"field": "lo", "type": "quantitative", "scale": {"domain": [0, 1], "nice": false}, "axis": {"values": [0, 0.5, 1], "title": null, "format": "~g"}}, "y2": {"field": "hi"}}},
  {"data": {"name": "norm"}, "transform": [{"filter": "datum.m=='ha'"}], "mark": {"type": "line", "strokeWidth": 1, "color": "#000000"}, "encoding": {
     "x": {"field": "x", "type": "quantitative", "axis": {"orient": "top", "values": [0, 50, 100], "labels": false, "title": null}},
     "y": {"field": "y", "type": "quantitative", "axis": {"orient": "right", "values": [0, 0.5, 1], "labels": false, "title": null}}}},
  {"data": {"name": "exp"}, "transform": [{"filter": "datum.m=='ha'"}], "mark": {"type": "line", "strokeWidth": 3.5, "color": "#44bdf5"}, "encoding": {"x": {"field": "x", "type": "quantitative", "axis": null}, "y": {"field": "y", "type": "quantitative", "axis": null}}},
  {"data": {"name": "opt"}, "transform": [{"filter": "datum.m=='ha'"}], "mark": {"type": "line", "strokeWidth": 3.5, "color": "#00c800"}, "encoding": {"x": {"field": "x", "type": "quantitative", "axis": null}, "y": {"field": "y", "type": "quantitative", "axis": null}}}
 ]},
{"title": "tibialis anterior", "width": 229, "height": 158, "resolve": {"axis": {"x": "independent", "y": "independent"}},
 "layer": [
  {"data": {"name": "norm"}, "transform": [{"filter": "datum.m=='ta'"}], "mark": {"type": "area", "color": "#c8c8c8"}, "encoding": {
     "x": {"field": "x", "type": "quantitative", "scale": {"domain": [0, 100], "nice": false}, "axis": {"values": [0, 50, 100], "title": "% gait cycle"}},
     "y": {"field": "lo", "type": "quantitative", "scale": {"domain": [0, 1], "nice": false}, "axis": {"values": [0, 0.5, 1], "title": null, "format": "~g"}}, "y2": {"field": "hi"}}},
  {"data": {"name": "norm"}, "transform": [{"filter": "datum.m=='ta'"}], "mark": {"type": "line", "strokeWidth": 1, "color": "#000000"}, "encoding": {
     "x": {"field": "x", "type": "quantitative", "axis": {"orient": "top", "values": [0, 50, 100], "labels": false, "title": null}},
     "y": {"field": "y", "type": "quantitative", "axis": {"orient": "right", "values": [0, 0.5, 1], "labels": false, "title": null}}}},
  {"data": {"name": "exp"}, "transform": [{"filter": "datum.m=='ta'"}], "mark": {"type": "line", "strokeWidth": 3.5, "color": "#44bdf5"}, "encoding": {"x": {"field": "x", "type": "quantitative", "axis": null}, "y": {"field": "y", "type": "quantitative", "axis": null}}},
  {"data": {"name": "opt"}, "transform": [{"filter": "datum.m=='ta'"}], "mark": {"type": "line", "strokeWidth": 3.5, "color": "#00c800"}, "encoding": {"x": {"field": "x", "type": "quantitative", "axis": null}, "y": {"field": "y", "type": "quantitative", "axis": null}}}
 ]},
{"title": "gastrocnemius", "width": 229, "height": 158, "resolve": {"axis": {"x": "independent", "y": "independent"}},
 "layer": [
  {"data": {"name": "norm"}, "transform": [{"filter": "datum.m=='ga'"}], "mark": {"type": "area", "color": "#c8c8c8"}, "encoding": {
     "x": {"field": "x", "type": "quantitative", "scale": {"domain": [0, 100], "nice": false}, "axis": {"values": [0, 50, 100], "title": "% gait cycle"}},
     "y": {"field": "lo", "type": "quantitative", "scale": {"domain": [0, 1], "nice": false}, "axis": {"values": [0, 0.5, 1], "title": null, "format": "~g"}}, "y2": {"field": "hi"}}},
  {"data": {"name": "norm"}, "transform": [{"filter": "datum.m=='ga'"}], "mark": {"type": "line", "strokeWidth": 1, "color": "#000000"}, "encoding": {
     "x": {"field": "x", "type": "quantitative", "axis": {"orient": "top", "values": [0, 50, 100], "labels": false, "title": null}},
     "y": {"field": "y", "type": "quantitative", "axis": {"orient": "right", "values": [0, 0.5, 1], "labels": false, "title": null}}}},
  {"data": {"name": "exp"}, "transform": [{"filter": "datum.m=='ga'"}], "mark": {"type": "line", "strokeWidth": 3.5, "color": "#44bdf5"}, "encoding": {"x": {"field": "x", "type": "quantitative", "axis": null}, "y": {"field": "y", "type": "quantitative", "axis": null}}},
  {"data": {"name": "opt"}, "transform": [{"filter": "datum.m=='ga'"}], "mark": {"type": "line", "strokeWidth": 3.5, "color": "#00c800"}, "encoding": {"x": {"field": "x", "type": "quantitative", "axis": null}, "y": {"field": "y", "type": "quantitative", "axis": null}}}
 ]},
{"title": "soleus", "width": 229, "height": 158, "resolve": {"axis": {"x": "independent", "y": "independent"}},
 "layer": [
  {"data": {"name": "norm"}, "transform": [{"filter": "datum.m=='so'"}], "mark": {"type": "area", "color": "#c8c8c8"}, "encoding": {
     "x": {"field": "x", "type": "quantitative", "scale": {"domain": [0, 100], "nice": false}, "axis": {"values": [0, 50, 100], "title": "% gait cycle"}},
     "y": {"field": "lo", "type": "quantitative", "scale": {"domain": [0, 1], "nice": false}, "axis": {"values": [0, 0.5, 1], "title": null, "format": "~g"}}, "y2": {"field": "hi"}}},
  {"data": {"name": "norm"}, "transform": [{"filter": "datum.m=='so'"}], "mark": {"type": "line", "strokeWidth": 1, "color": "#000000"}, "encoding": {
     "x": {"field": "x", "type": "quantitative", "axis": {"orient": "top", "values": [0, 50, 100], "labels": false, "title": null}},
     "y": {"field": "y", "type": "quantitative", "axis": {"orient": "right", "values": [0, 0.5, 1], "labels": false, "title": null}}}},
  {"data": {"name": "exp"}, "transform": [{"filter": "datum.m=='so'"}], "mark": {"type": "line", "strokeWidth": 3.5, "color": "#44bdf5"}, "encoding": {"x": {"field": "x", "type": "quantitative", "axis": null}, "y": {"field": "y", "type": "quantitative", "axis": null}}},
  {"data": {"name": "opt"}, "transform": [{"filter": "datum.m=='so'"}], "mark": {"type": "line", "strokeWidth": 3.5, "color": "#00c800"}, "encoding": {"x": {"field": "x", "type": "quantitative", "axis": null}, "y": {"field": "y", "type": "quantitative", "axis": null}}}
 ]}
],
"config": {
 "font": "Liberation Sans",
 "view": {"stroke": "#262626", "strokeWidth": 1.3},
 "axis": {"domain": false, "grid": false, "ticks": true, "tickSize": -4, "tickColor": "#262626", "tickWidth": 1.2, "labelFont": "Liberation Sans", "labelFontSize": 27, "labelColor": "#262626", "labelFlush": false, "labelOverlap": false, "titleFont": "Liberation Sans", "titleFontSize": 28, "titleFontWeight": "normal", "titleColor": "#262626", "titlePadding": 10},
 "axisX": {"labelPadding": 23},
 "axisY": {"labelPadding": 14},
 "title": {"fontSize": 30, "fontWeight": "bold", "font": "Liberation Sans", "color": "#000000", "offset": -5},
 "line": {"strokeJoin": "round"},
 "legend": {"orient": "none", "legendX": 218, "legendY": 790, "direction": "vertical", "labelFont": "Liberation Sans", "labelFontSize": 22, "labelColor": "#000000", "labelOffset": -5, "symbolOffset": -11, "symbolSize": 3249, "clipHeight": 23, "rowPadding": 8, "padding": 7, "strokeColor": "#262626", "fillColor": "#ffffff", "labelLimit": 400}
}
}
